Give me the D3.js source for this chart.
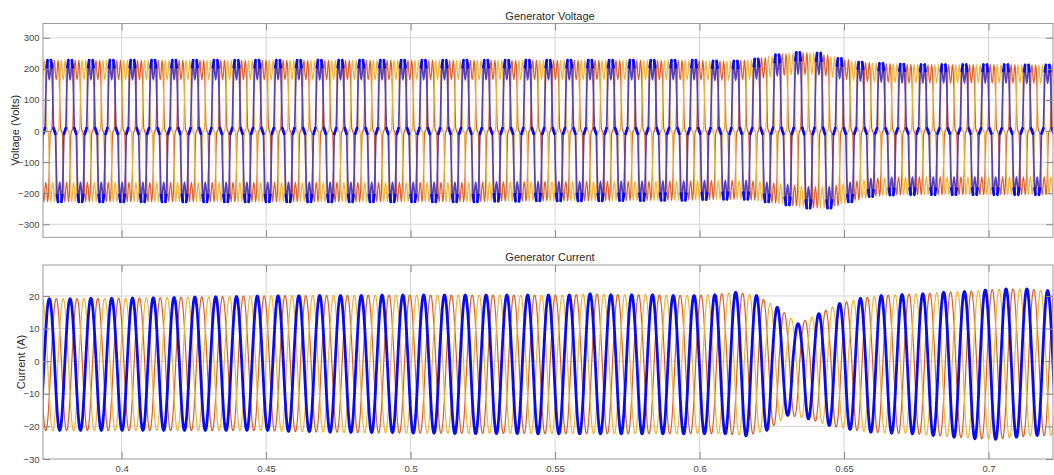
<!DOCTYPE html>
<html><head><meta charset="utf-8">
<script src="https://cdn.jsdelivr.net/npm/d3@7"></script>
<style>
body{margin:0;background:#fff;}
svg{display:block;font-family:"Liberation Sans",Arial,Helvetica,sans-serif;}
</style>
</head><body>
<svg id="chart" width="1054" height="475"></svg>
<script>
// ---------------- data ----------------
const xTicks = [0.4, 0.45, 0.5, 0.55, 0.6, 0.65, 0.7];
const xTickLabels = ["0.4", "0.45", "0.5", "0.55", "0.6", "0.65", "0.7"];
const voltageTicks = [-300, -200, -100, 0, 100, 200, 300];
const currentTicks = [-30, -20, -10, 0, 10, 20];
const panelTitles = ["Generator Voltage", "Generator Current"];
const yLabels = ["Voltage (Volts)", "Current (A)"];
const phaseColors = ["#0a0af5", "#dd5f2a", "#efb43a"];
const edgeColor = "#5a3fb5";             // blended look of the steep blue edges
const phaseOffsets = [0, 1, 2];          // thirds of a cycle
const drawOrder = [1, 2, 0];

const firstPeakTime = 0.37498;           // time of first blue peak (s)
const cyclePeriod = 0.0071972;           // s per cycle

// one-cycle shapes (start at rising zero crossing)
const voltageShape = [0, 0.04, 0.5, 0.9, 1, 0.82, 0.72, 0.82, 1, 0.9, 0.5, 0.04,
                      0, -0.04, -0.5, -0.9, -1, -0.82, -0.72, -0.82, -1, -0.9, -0.5, -0.04];
const currentShape = [0, 0.26, 0.5, 0.71, 0.87, 0.97, 1, 0.97, 0.87, 0.71, 0.5, 0.26,
                      0, -0.26, -0.5, -0.71, -0.87, -0.97, -1, -0.97, -0.87, -0.71, -0.5, -0.26];

// per-cycle peak / trough values (cycle 0 .. 48)
const voltagePeaks = [228,228,228,228,228,228,228,228,228,228,228,228,228,228,228,228,
  228,228,228,228,228,228,228,228,228,228,228,228,228,228,228,228,
  226,226,232,246,253,251,234,222,218,215,214,214,214,214,214,213,213];
const voltageTroughs = [-228,-228,-228,-228,-228,-228,-228,-228,-228,-228,-228,-228,-228,-228,-228,-228,
  -228,-228,-228,-228,-228,-226,-226,-225,-225,-225,-225,-224,-224,-223,-223,
  -221,-220,-220,-228,-238,-248,-248,-228,-211,-206,-205,-205,-205,-205,-205,-205,-205,-205];
const currentPeaks = [19.2,19.2,19.3,19.3,19.4,19.5,19.6,19.7,19.8,19.9,20.0,
  20.1,20.1,20.2,20.2,20.2,20.3,20.3,20.3,20.3,20.3,20.3,20.3,20.3,20.3,
  20.3,20.7,20.4,20.4,20.4,20.2,20.2,20.4,
  21.2,20.2,16.6,11.5,14.6,17.7,
  19.3,20.2,20.5,20.7,21.2,21.4,21.9,22.2,22.2,21.7];
const currentTroughs = [-21.3,-21.3,-21.3,-21.3,-21.3,-21.3,-21.3,-21.3,-21.3,-21.3,-21.3,
  -21.6,-21.7,-21.8,-21.9,-22.0,-22.0,-22.1,-22.1,-22.2,-22.2,-22.2,-22.2,-22.3,-22.3,
  -22.3,-22.3,-22.3,-22.3,-22.3,-22.3,-22.3,-22.3,
  -22.9,-21.3,-16.7,-17.7,-19.8,-21.0,
  -21.8,-22.1,-22.3,-22.8,-23.3,-23.8,-24.0,-23.3,-22.8,-22.8];

// ---------------- layout ----------------
const svg = d3.select("#chart");
const L = 43, R = 1053;
const panels = [
  {top: 23.5, bottom: 237.3, domain: [-342, 346], ticks: voltageTicks,
   shape: voltageShape, peaks: voltagePeaks, troughs: voltageTroughs, splitEdges: true,
   title: panelTitles[0], titleY: 20, ylabel: yLabels[0], ylabelX: 19, showX: false},
  {top: 265, bottom: 459, domain: [-30, 29.5], ticks: currentTicks,
   shape: currentShape, peaks: currentPeaks, troughs: currentTroughs, splitEdges: false,
   title: panelTitles[1], titleY: 261, ylabel: yLabels[1], ylabelX: 25, showX: true}
];

const x = d3.scaleLinear().domain([0.3728, 0.7223]).range([L, R]);

function buildSeries(shape, peaks, troughs, phase) {
  const idx = d3.range(peaks.length);
  const peakAt = d3.scaleLinear().domain(idx).range(peaks).clamp(true);
  const troughAt = d3.scaleLinear().domain(idx).range(troughs).clamp(true);
  const n = shape.length;
  const pts = [];
  for (let k = -2; k <= peaks.length + 1; k++) {
    const c0 = k + phase / 3;
    const pos = peakAt(c0), neg = Math.abs(troughAt(c0));
    for (let i = 0; i < n; i++) {
      const c = c0 - 0.25 + i / n;
      const s = shape[i];
      pts.push({t: firstPeakTime + c * cyclePeriod, v: s >= 0 ? s * pos : s * neg,
                thick: Math.abs(s) >= 0.85 || Math.abs(s) <= 0.05});
    }
  }
  return pts;
}

const gridColor = "#d6d6d6", frameColor = "#9a9a9a", tickText = "#4a4a4a";

panels.forEach((p, pi) => {
  const y = d3.scaleLinear().domain(p.domain).range([p.bottom, p.top]);
  const g = svg.append("g");
  const clipId = "clip" + pi;
  svg.append("clipPath").attr("id", clipId).append("rect")
    .attr("x", L).attr("y", p.top).attr("width", R - L).attr("height", p.bottom - p.top);

  // grid
  g.append("g").selectAll("line").data(p.ticks.filter(v => v > p.domain[0] && v < p.domain[1]))
    .join("line").attr("x1", L).attr("x2", R).attr("y1", d => y(d)).attr("y2", d => y(d))
    .attr("stroke", gridColor).attr("stroke-width", 1);
  g.append("g").selectAll("line").data(xTicks)
    .join("line").attr("x1", d => x(d)).attr("x2", d => x(d)).attr("y1", p.top).attr("y2", p.bottom)
    .attr("stroke", gridColor).attr("stroke-width", 1);

  // traces
  const line = d3.line().x(d => x(d.t)).y(d => y(d.v)).curve(d3.curveMonotoneX);
  const tg = g.append("g").attr("clip-path", `url(#${clipId})`);
  drawOrder.forEach(ph => {
    const data = buildSeries(p.shape, p.peaks, p.troughs, phaseOffsets[ph]);
    if (ph === 0 && p.splitEdges) {
      tg.append("path").datum(data).attr("d", line).attr("fill", "none")
        .attr("stroke", edgeColor).attr("stroke-width", 1.7).attr("stroke-linejoin", "round");
      tg.append("path").datum(data).attr("d", line.defined(d => d.thick)).attr("fill", "none")
        .attr("stroke", phaseColors[0]).attr("stroke-width", 2.8)
        .attr("stroke-linejoin", "round").attr("stroke-linecap", "round");
      line.defined(() => true);
    } else {
      tg.append("path").datum(data).attr("d", line).attr("fill", "none")
        .attr("stroke", phaseColors[ph])
        .attr("stroke-width", ph === 0 ? 2.8 : 1.2)
        .attr("stroke-linejoin", "round");
    }
  });

  // frame
  g.append("rect").attr("x", L).attr("y", p.top).attr("width", R - L).attr("height", p.bottom - p.top)
    .attr("fill", "none").attr("stroke", frameColor).attr("stroke-width", 1);

  // axes (ticks inward)
  const yAxisL = d3.axisLeft(y).tickValues(p.ticks).tickSize(-7).tickPadding(10).tickFormat(d3.format("d"));
  const ga = g.append("g").attr("transform", `translate(${L},0)`).call(yAxisL);
  ga.select(".domain").remove();
  ga.selectAll(".tick line").attr("stroke", "#8a8a8a");
  ga.selectAll(".tick text").attr("fill", tickText).attr("font-size", "9.5px").attr("x", -3.5);
  const yAxisR = d3.axisRight(y).tickValues(p.ticks).tickSize(-7).tickFormat("");
  const gr = g.append("g").attr("transform", `translate(${R},0)`).call(yAxisR);
  gr.select(".domain").remove();
  gr.selectAll(".tick line").attr("stroke", "#8a8a8a");

  const xAxisB = d3.axisBottom(x).tickValues(xTicks).tickSize(-7)
    .tickFormat((d, i) => p.showX ? xTickLabels[i] : "");
  const gb = g.append("g").attr("transform", `translate(0,${p.bottom})`).call(xAxisB);
  gb.select(".domain").remove();
  gb.selectAll(".tick line").attr("stroke", "#8a8a8a");
  gb.selectAll(".tick text").attr("fill", tickText).attr("font-size", "9.5px").attr("y", 6);
  const xAxisT = d3.axisTop(x).tickValues(xTicks).tickSize(-7).tickFormat("");
  const gt = g.append("g").attr("transform", `translate(0,${p.top})`).call(xAxisT);
  gt.select(".domain").remove();
  gt.selectAll(".tick line").attr("stroke", "#8a8a8a");

  // title & label
  g.append("text").attr("x", (L + R) / 2 + 2).attr("y", p.titleY).attr("text-anchor", "middle")
    .attr("font-size", "11px").attr("fill", "#2a2a2a").text(p.title);
  g.append("text").attr("transform", `translate(${p.ylabelX},${(p.top + p.bottom) / 2}) rotate(-90)`)
    .attr("text-anchor", "middle").attr("font-size", "11px").attr("fill", "#2a2a2a").text(p.ylabel);
});
</script>
</body></html>
